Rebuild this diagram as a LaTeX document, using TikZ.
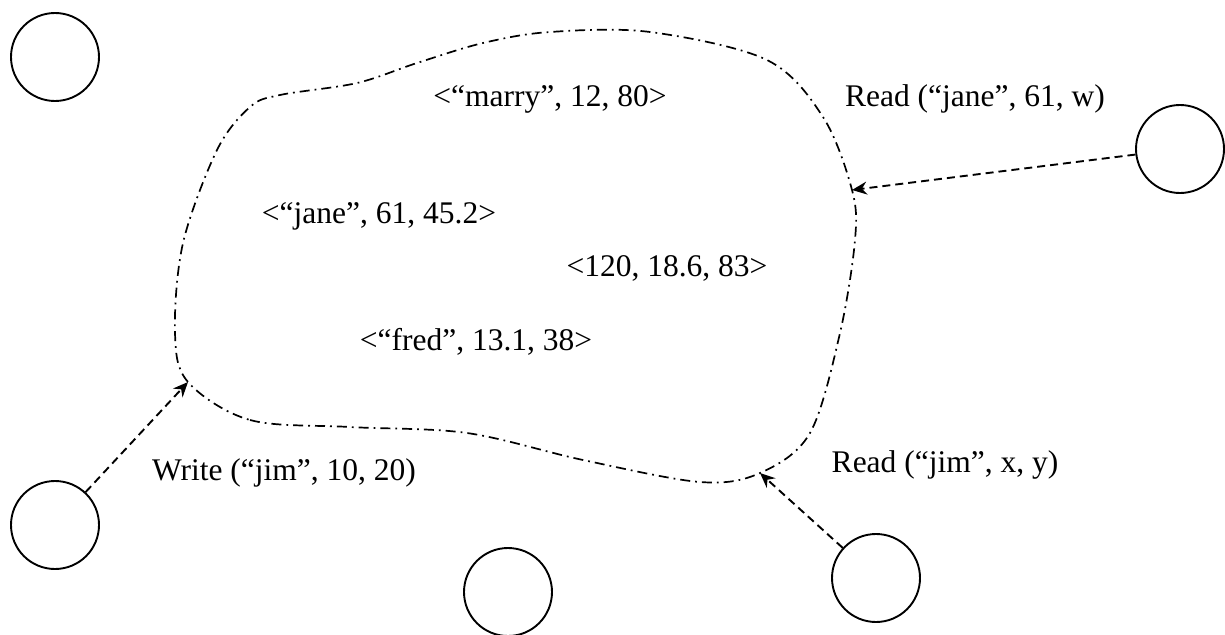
\documentclass[tikz,border=0pt]{standalone}
\usepackage{fontspec}
\setmainfont{Liberation Serif}
\usetikzlibrary{arrows.meta}
\begin{document}
\begin{tikzpicture}[x=1pt,y=-1pt,
  proc/.style={draw,circle,line width=1.9pt,minimum size=88pt,inner sep=0pt},
  blobline/.style={line width=1.7pt,dash pattern=on 10pt off 5pt on 1.8pt off 5pt},
  msg/.style={line width=1.9pt,dash pattern=on 8pt off 5pt,-{Stealth[length=15pt,width=13pt,inset=5pt]}},
  lab/.style={anchor=base,inner sep=0pt,font=\fontsize{31.5}{36}\selectfont}]
\useasboundingbox (0,0) rectangle (1225,634);
% processes
\node[proc] (p1) at (55,57) {};
\node[proc] (p2) at (1180,149) {};
\node[proc] (p3) at (55,525) {};
\node[proc] (p4) at (508,592) {};
\node[proc] (p5) at (876,578) {};
% tuple space boundary
\coordinate (tw) at (188,382);
\coordinate (tr1) at (852,190);
\coordinate (tr2) at (760,473);
\draw[blobline] plot[smooth cycle,tension=0.55] coordinates {
  (188,382) (250,420) (350,427) (467,433) (583,460) (700,482) (760,473)
  (810,433) (840,333) (855,240) (852,190) (823,117) (767,60) (650,32)
  (550,32) (483,43) (417,63) (357,83) (280,95) (250,107) (217,150)
  (183,243) (175,333)};
% tuples
\node[lab] (t1) at (550,106) {<“marry”, 12, 80>};
\node[lab] (t2) at (379,223) {<“jane”, 61, 45.2>};
\node[lab] (t3) at (667,276) {<120, 18.6, 83>};
\node[lab] (t4) at (476,350) {<“fred”, 13.1, 38>};
% operations
\node[lab] (l1) at (975,106) {Read (“jane”, 61, w)};
\node[lab] (l2) at (284,480) {Write (“jim”, 10, 20)};
\node[lab] (l3) at (945,472) {Read (“jim”, x, y)};
\draw[msg] (p2) -- (tr1);
\draw[msg] (p5) -- (tr2);
\draw[msg] (p3) -- (tw);
\end{tikzpicture}
\end{document}
